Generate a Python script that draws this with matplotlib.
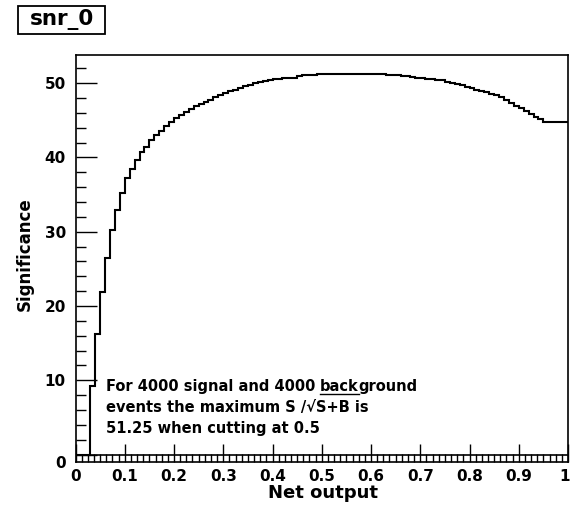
import numpy as np
import matplotlib
matplotlib.use('Agg')
import matplotlib.pyplot as plt
from matplotlib.ticker import MultipleLocator
from matplotlib.transforms import ScaledTranslation
from matplotlib.patches import Rectangle

plt.rcParams['font.family'] = ['DejaVu Sans']
plt.rcParams['font.weight'] = 'bold'

# histogram: 100 bins from 0 to 1, significance per cut value
bin_edges = np.linspace(0, 1, 101)
significance = [
    0.0, 0.0, 0.0, 9.2, 16.3, 21.9, 26.5, 30.2, 32.9, 35.2,
    37.2, 38.5, 39.6, 40.8, 41.4, 42.3, 43.0, 43.6, 44.2, 44.8,
    45.3, 45.7, 46.1, 46.5, 46.9, 47.2, 47.5, 47.8, 48.1, 48.4,
    48.7, 48.9, 49.1, 49.4, 49.6, 49.8, 50.0, 50.1, 50.3, 50.4,
    50.55, 50.55, 50.7, 50.7, 50.7, 51.0, 51.1, 51.1, 51.1, 51.2,
    51.25, 51.2, 51.2, 51.2, 51.2, 51.2, 51.2, 51.2, 51.2, 51.2,
    51.2, 51.2, 51.2, 51.1, 51.1, 51.1, 51.0, 51.0, 50.9, 50.7,
    50.7, 50.55, 50.55, 50.4, 50.4, 50.2, 50.0, 49.85, 49.7, 49.5,
    49.3, 49.15, 49.0, 48.8, 48.6, 48.4, 48.1, 47.8, 47.4, 47.0,
    46.6, 46.3, 45.9, 45.5, 45.2, 44.8, 44.8, 44.8, 44.8, 44.8,
]
x_ticks = [0, 0.1, 0.2, 0.3, 0.4, 0.5, 0.6, 0.7, 0.8, 0.9, 1]
x_tick_labels = ['0', '0.1', '0.2', '0.3', '0.4', '0.5', '0.6', '0.7', '0.8', '0.9', '1']
y_ticks = [0, 10, 20, 30, 40, 50]

fig = plt.figure(figsize=(5.71, 5.05), dpi=100)
ax = fig.add_axes([75.5 / 571, 1 - 462 / 505, (568 - 75.5) / 571, (462 - 55) / 505])

ax.stairs(significance, bin_edges, color='black', linewidth=1.5, baseline=None)
ax.axhline(0, color='black', linewidth=1.2)

ax.set_xlim(0, 1)
ax.set_ylim(-1.0, 53.8)
ax.set_xticks(x_ticks)
ax.set_xticklabels(x_tick_labels)
ax.set_yticks(y_ticks)
ax.xaxis.set_minor_locator(MultipleLocator(0.0125))
ax.yaxis.set_minor_locator(MultipleLocator(2))
ax.tick_params(which='major', direction='in', labelsize=11, width=1.0, color='black')
ax.tick_params(axis='x', which='major', length=13, pad=5)
ax.tick_params(axis='y', which='major', length=15, pad=7)
ax.tick_params(axis='x', which='minor', direction='in', length=6, width=1.0)
ax.tick_params(axis='y', which='minor', direction='in', length=7, width=1.0)
for lbl in ax.get_xticklabels() + ax.get_yticklabels():
    lbl.set_fontweight('bold')
for s in ax.spines.values():
    s.set_linewidth(1.2)

# ROOT shifts the "0" label down to the corner
zero_lbl = ax.get_yticklabels()[0]
zero_lbl.set_transform(zero_lbl.get_transform() + ScaledTranslation(0, -7 / 100, fig.dpi_scale_trans))
# keep the "1" inside the canvas
one_lbl = ax.get_xticklabels()[-1]
one_lbl.set_transform(one_lbl.get_transform() + ScaledTranslation(-3 / 100, 0, fig.dpi_scale_trans))

fig.text(323 / 571, 1 - 493 / 505, 'Net output', ha='center', va='center', fontsize=13, fontweight='bold')
fig.text(25 / 571, 1 - 254 / 505, 'Significance', ha='center', va='center', rotation=90,
         fontsize=12, fontweight='bold')

# title box
fig.add_artist(Rectangle((18 / 571, 1 - 34 / 505), 87 / 571, 28 / 505, transform=fig.transFigure,
                         facecolor='white', edgecolor='black', linewidth=1.3))
fig.text(62 / 571, 1 - 20 / 505, 'snr_0', ha='center', va='center', fontsize=15.5, fontweight='bold')

# annotation
fs = 10.5
tx = 105.5 / 571
y1 = 1 - 391 / 505
part1 = fig.text(tx, y1, 'For 4000 signal and 4000 ', ha='left', va='baseline',
                 fontsize=fs, fontweight='bold')
fig.canvas.draw()
r = fig.canvas.get_renderer()
inv = fig.transFigure.inverted()
x_back = inv.transform((part1.get_window_extent(r).x1, 0))[0]
back = fig.text(x_back, y1, 'back', ha='left', va='baseline', fontsize=fs, fontweight='bold')
x_ground = inv.transform((back.get_window_extent(r).x1, 0))[0]
fig.text(x_ground, y1, 'ground', ha='left', va='baseline', fontsize=fs, fontweight='bold')
y_ul = y1 - 2.5 / 505
fig.add_artist(plt.Line2D([x_back, x_ground], [y_ul, y_ul], transform=fig.transFigure,
                          color='black', linewidth=1.0))
fig.text(tx, 1 - 412 / 505, 'events the maximum S /\u221aS+B is', ha='left', va='baseline',
         fontsize=fs, fontweight='bold')
fig.text(tx, 1 - 433 / 505, '51.25 when cutting at 0.5', ha='left', va='baseline',
         fontsize=fs, fontweight='bold')

fig.savefig('out.png', dpi=100)
